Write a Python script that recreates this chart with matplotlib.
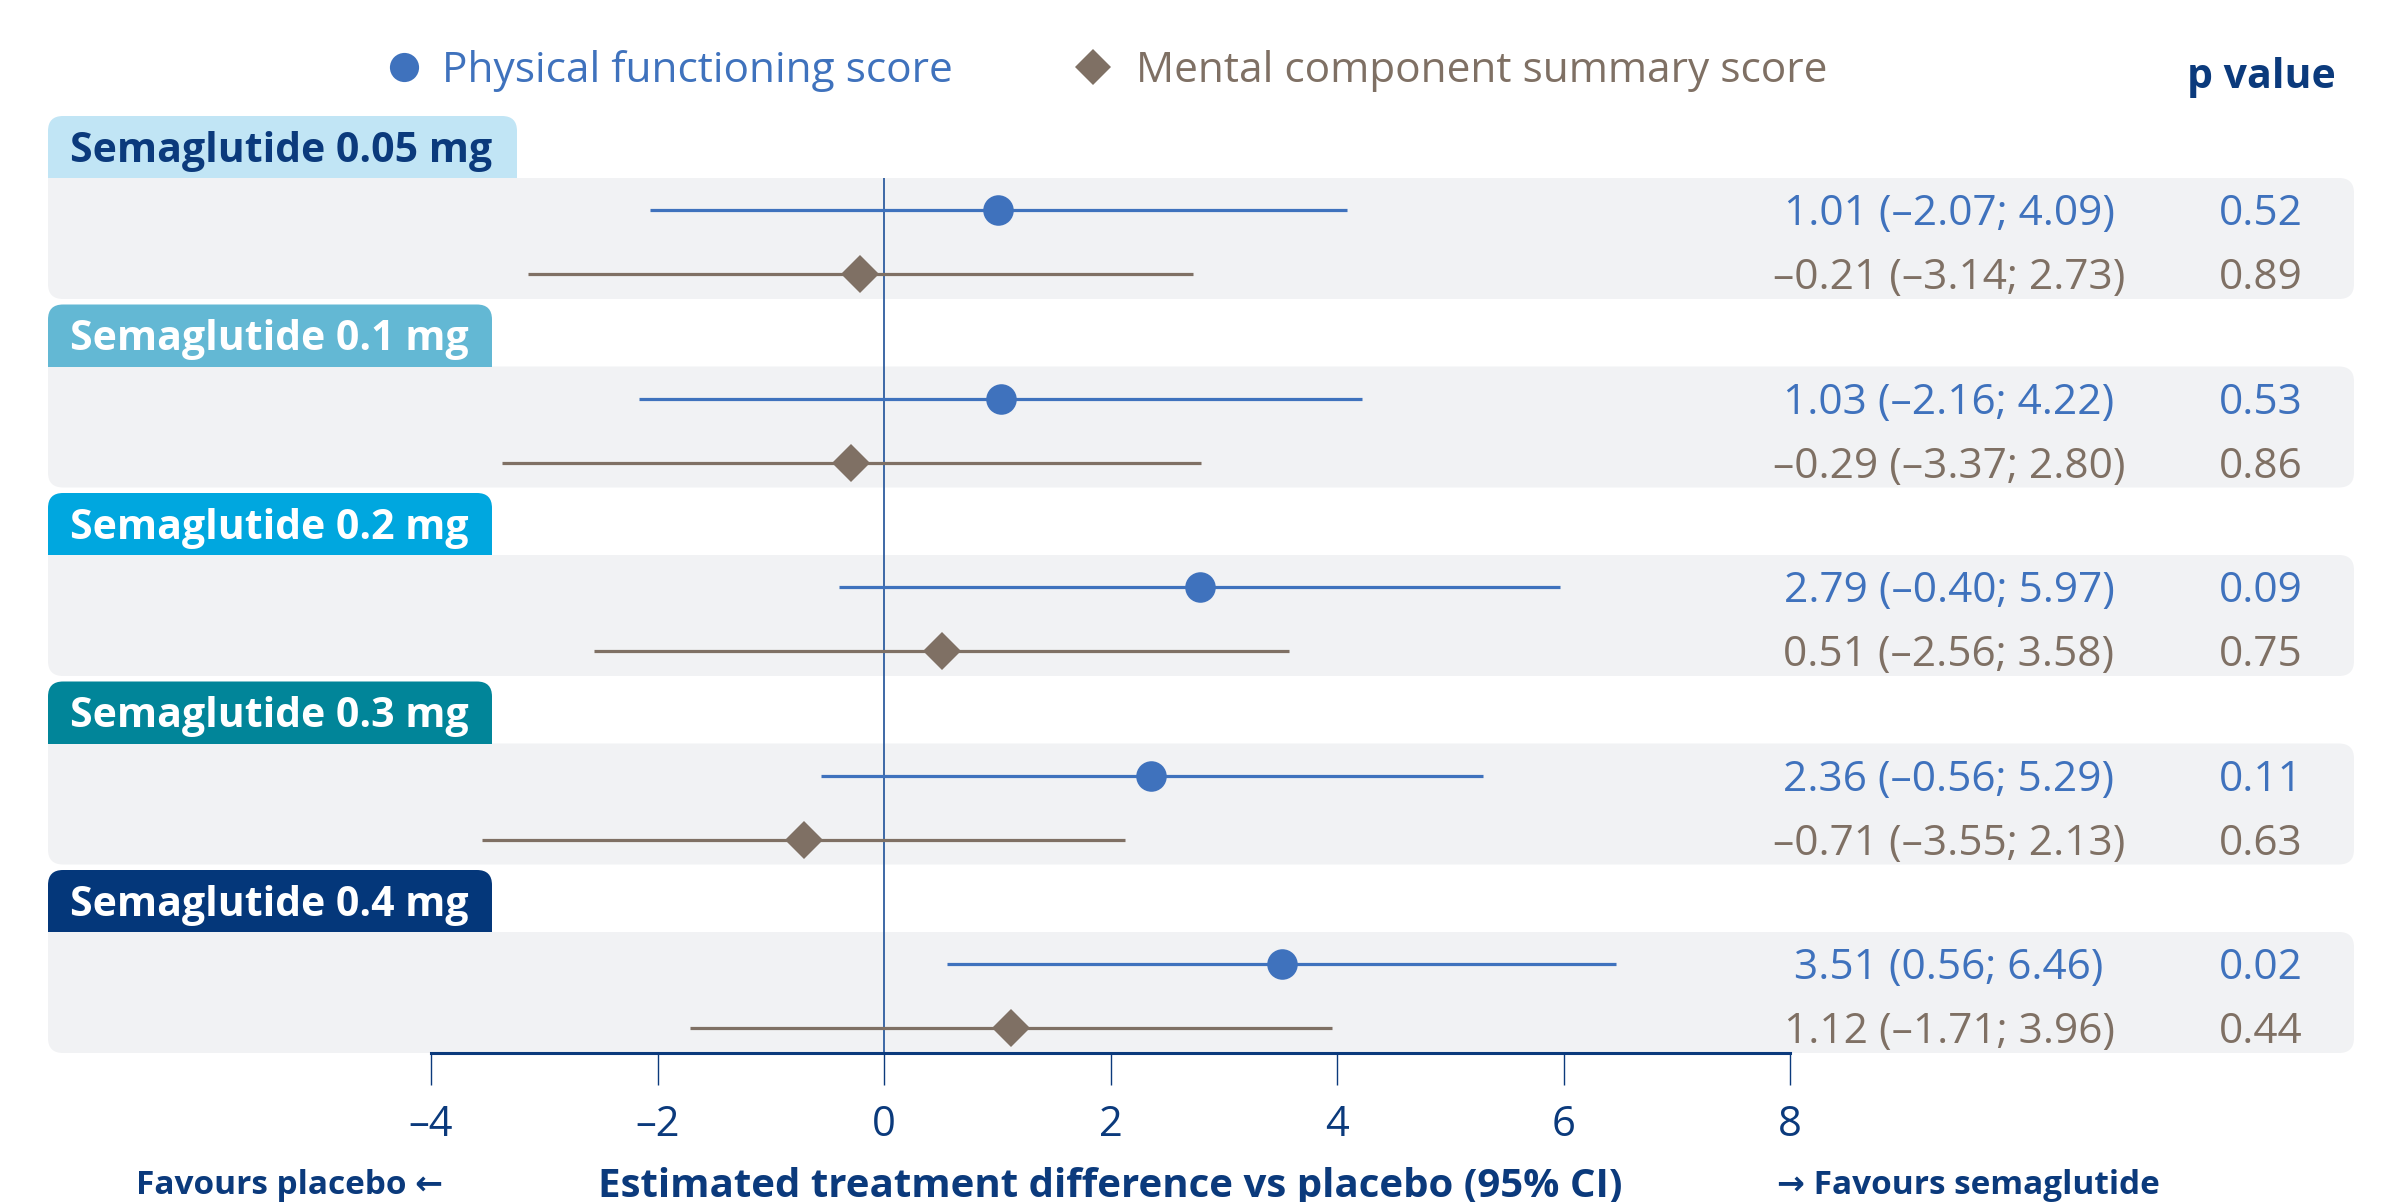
import matplotlib
matplotlib.use("Agg")
import matplotlib.pyplot as plt
from matplotlib.patches import FancyBboxPatch, Rectangle

# ---- data -------------------------------------------------------------
doses = ["Semaglutide 0.05 mg", "Semaglutide 0.1 mg", "Semaglutide 0.2 mg",
         "Semaglutide 0.3 mg", "Semaglutide 0.4 mg"]

pf_est = [1.01, 1.03, 2.79, 2.36, 3.51]
pf_lo = [-2.07, -2.16, -0.40, -0.56, 0.56]
pf_hi = [4.09, 4.22, 5.97, 5.29, 6.46]
pf_p = [0.52, 0.53, 0.09, 0.11, 0.02]

mcs_est = [-0.21, -0.29, 0.51, -0.71, 1.12]
mcs_lo = [-3.14, -3.37, -2.56, -3.55, -1.71]
mcs_hi = [2.73, 2.80, 3.58, 2.13, 3.96]
mcs_p = [0.89, 0.86, 0.75, 0.63, 0.44]

xticks = [-4, -2, 0, 2, 4, 6, 8]
series_names = ["Physical functioning score", "Mental component summary score"]

# ---- styling ----------------------------------------------------------
BLUE = "#3F72BD"
BROWN = "#7F7064"
NAVY = "#0B3A7C"
ZERO = "#2F5D9F"
BAND = "#F1F2F4"
TAB_COLORS = ["#C1E5F5", "#63B8D4", "#00A7DF", "#018599", "#04377A"]
TAB_TEXT = [NAVY, "white", "white", "white", "white"]
FONT = "Open Sans"

plt.rcParams["font.family"] = [FONT, "DejaVu Sans"]

W, H = 2381, 1202
fig = plt.figure(figsize=(W / 100, H / 100), dpi=100)

# pixel-space layer for panels and text
bg = fig.add_axes([0, 0, 1, 1])
bg.set_xlim(0, W)
bg.set_ylim(H, 0)
bg.axis("off")

# layout (pixels)
X_LEFT, X_RIGHT = 48, 2354
AX_L, AX_R = 431, 1790
TOP0, STEP = 178, 188.5
BAND_H, TAB_H, R = 121, 62, 15
ROW1, ROW2 = 32, 96
VAL_X, P_X = 1949, 2261
AXIS_Y = 1053


def cap(size):
    return 0.714 * size * 100 / 72


VAL_SIZE = 30.5
TAB_SIZE = 29.5
LEG_SIZE = 30.5

band_tops = [TOP0 + STEP * i for i in range(len(doses))]

for i, (name, top) in enumerate(zip(doses, band_tops)):
    # grey band
    bg.add_patch(FancyBboxPatch((X_LEFT, top), X_RIGHT - X_LEFT, BAND_H,
                                boxstyle=f"round,pad=0,rounding_size={R}",
                                fc=BAND, ec="none", zorder=1))
    bg.add_patch(Rectangle((X_LEFT, top), R, R, fc=BAND, ec="none", zorder=1.1))
    # coloured tab
    tab_w = (517 if i == 0 else 492) - X_LEFT
    bg.add_patch(FancyBboxPatch((X_LEFT, top - TAB_H), tab_w, TAB_H,
                                boxstyle=f"round,pad=0,rounding_size={R}",
                                fc=TAB_COLORS[i], ec="none", zorder=1.2))
    bg.add_patch(Rectangle((X_LEFT, top - TAB_H + R), tab_w, TAB_H - R,
                           fc=TAB_COLORS[i], ec="none", zorder=1.2))
    bg.text(70, top - TAB_H / 2 + cap(TAB_SIZE) / 2, name, fontsize=TAB_SIZE,
            fontweight="bold", color=TAB_TEXT[i], ha="left", va="baseline",
            zorder=3)


def fmt(v):
    return f"{v:.2f}".replace("-", "\u2013")


# value and p-value columns
for i, top in enumerate(band_tops):
    for off, est, lo, hi, p, col in [
        (ROW1, pf_est[i], pf_lo[i], pf_hi[i], pf_p[i], BLUE),
        (ROW2, mcs_est[i], mcs_lo[i], mcs_hi[i], mcs_p[i], BROWN),
    ]:
        y = top + off + cap(VAL_SIZE) / 2
        bg.text(VAL_X, y, f"{fmt(est)} ({fmt(lo)}; {fmt(hi)})", fontsize=VAL_SIZE,
                color=col, ha="center", va="baseline", zorder=3)
        bg.text(P_X, y, f"{p:.2f}", fontsize=VAL_SIZE, color=col,
                ha="center", va="baseline", zorder=3)

# legend row
LEG_Y = 67
bg.plot([404], [LEG_Y], "o", ms=21, color=BLUE, mew=0, zorder=3)
bg.text(442, LEG_Y + cap(LEG_SIZE) / 2, series_names[0], fontsize=LEG_SIZE,
        color=BLUE, ha="left", va="baseline")
bg.plot([1093], [LEG_Y], "D", ms=18, color=BROWN, mew=0, zorder=3)
bg.text(1136, LEG_Y + cap(LEG_SIZE) / 2, series_names[1], fontsize=LEG_SIZE,
        color=BROWN, ha="left", va="baseline")
bg.text(P_X, 73 + cap(29.5) / 2, "p value", fontsize=29.5, fontweight="bold",
        color=NAVY, ha="center", va="baseline")

# ---- forest plot axes -------------------------------------------------
ax = fig.add_axes([AX_L / W, (H - AXIS_Y) / H, (AX_R - AX_L) / W,
                   (AXIS_Y - TOP0) / H])
ax.patch.set_alpha(0)
ax.set_xlim(xticks[0], xticks[-1])
ax.set_ylim(AXIS_Y, TOP0)
for s in ["left", "right", "top"]:
    ax.spines[s].set_visible(False)
ax.spines["bottom"].set_color(NAVY)
ax.spines["bottom"].set_linewidth(2.2)
ax.set_yticks([])
ax.set_xticks(xticks)
ax.set_xticklabels([str(t).replace("-", "\u2013") for t in xticks])
ax.tick_params(axis="x", direction="out", length=23, width=1.0, color=NAVY,
               labelsize=30, labelcolor=NAVY, pad=14)

ax.axvline(0, color=ZERO, lw=1.3, zorder=2)

y_pf = [t + ROW1 for t in band_tops]
y_mcs = [t + ROW2 for t in band_tops]

ax.hlines(y_pf, pf_lo, pf_hi, color=BLUE, lw=2.3, zorder=3)
ax.plot(pf_est, y_pf, "o", ms=22, color=BLUE, mew=0, zorder=4)
ax.hlines(y_mcs, mcs_lo, mcs_hi, color=BROWN, lw=2.3, zorder=3)
ax.plot(mcs_est, y_mcs, "D", ms=19, color=BROWN, mew=0, zorder=4)

# bottom captions
BOT_Y = 1186
bg.text((AX_L + AX_R) / 2, BOT_Y, "Estimated treatment difference vs placebo (95% CI)",
        fontsize=29, fontweight="bold", color=NAVY, ha="center", va="center")
bg.text(290, BOT_Y, "Favours placebo \u2190", fontsize=24, fontweight="bold",
        color=NAVY, ha="center", va="center")
bg.text(1968, BOT_Y, "\u2192 Favours semaglutide", fontsize=24, fontweight="bold",
        color=NAVY, ha="center", va="center")

fig.savefig("out.png", dpi=100, facecolor="white")
